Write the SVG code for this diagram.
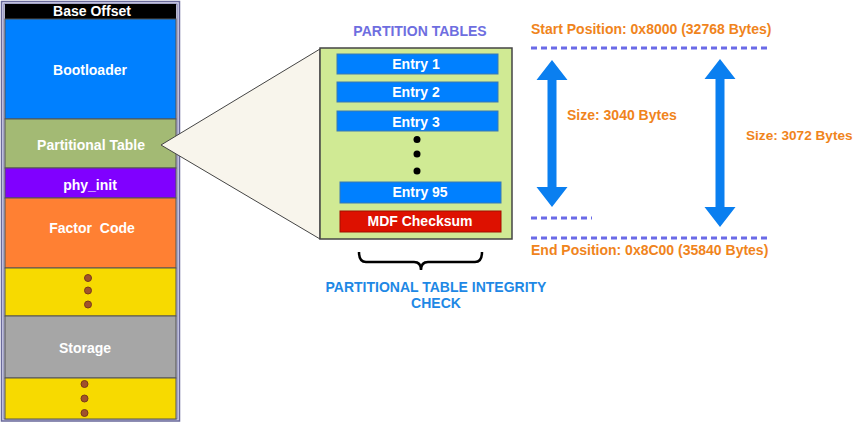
<svg xmlns="http://www.w3.org/2000/svg" width="861" height="423" viewBox="0 0 861 423">
<style>
text{font-family:"Liberation Sans",Arial,sans-serif;font-weight:bold;font-size:14px}
.w{fill:#ffffff;text-anchor:middle}
.wp{fill:#ffffff;text-anchor:middle;white-space:pre}
.e{fill:#ffffff;text-anchor:middle;font-size:14px}
.o{fill:#F0841C}
.b{fill:#1E88E5;text-anchor:middle;font-size:14px}
.blk{stroke:#555555;stroke-width:1}
.dash{stroke:#6A6AE8;stroke-width:3;stroke-dasharray:6 4;fill:none}
.ldot{fill:#A0522D;stroke:#7A3A1A;stroke-width:1}
.pdot{fill:#000000}
.ent{fill:#0080FF;stroke:#3A78B0;stroke-width:1}
.arr{fill:#0A7FF0}
</style>
<rect width="861" height="423" fill="#ffffff"/>
<g id="memory-map">
<rect x="1.5" y="1.5" width="178" height="419.5" fill="#DCDCF2" stroke="#6A6A9A" stroke-width="1.5"/>
<rect x="4" y="4" width="173" height="415" fill="#ffffff" stroke="#6A6A9A" stroke-width="1"/>
</g>
<g id="base-offset"><rect x="5" y="4" width="171" height="15" fill="#000000"/><text class="w" x="92" y="16">Base Offset</text></g>
<g id="bootloader"><rect x="5" y="19" width="171" height="100" fill="#0080FF" class="blk"/><text class="w" x="90" y="75">Bootloader</text></g>
<g id="partitional-table"><rect x="5" y="119" width="171" height="49" fill="#A3BA74" class="blk"/><text class="w" x="91" y="150">Partitional Table</text></g>
<g id="phy-init"><rect x="5" y="168" width="171" height="30" fill="#8000FF" class="blk"/><text class="w" x="90" y="190">phy_init</text></g>
<g id="factor-code"><rect x="5" y="198" width="171" height="70" fill="#FF8033" class="blk"/><text class="wp" x="92" y="233">Factor  Code</text></g>
<g id="gap1"><rect x="5" y="268" width="171" height="48" fill="#F7DA00" class="blk"/>
<circle class="ldot" cx="88" cy="278" r="3.5"/><circle class="ldot" cx="88" cy="290.5" r="3.5"/><circle class="ldot" cx="88" cy="304.5" r="3.5"/></g>
<g id="storage"><rect x="5" y="316" width="171" height="62" fill="#A6A6A6" class="blk"/><text class="w" x="85" y="353">Storage</text></g>
<g id="gap2"><rect x="5" y="378" width="171" height="41" fill="#F7DA00" class="blk"/>
<circle class="ldot" cx="84.5" cy="384" r="3.5"/><circle class="ldot" cx="84.5" cy="398.5" r="3.5"/><circle class="ldot" cx="84.5" cy="413" r="3.5"/></g>
<g id="connectors">
<polygon points="161,145 320,49 320,239" fill="#F8F5EC" stroke="#444444" stroke-width="1"/>
<path d="M359,252 Q359,262 366,262 L414,262 Q421,262 421,270 Q421,262 428,262 L475,262 Q482,262 482,252" fill="none" stroke="#000000" stroke-width="2.5"/>
<line class="dash" x1="531" y1="48" x2="770" y2="48"/>
<line class="dash" x1="531" y1="218" x2="592" y2="218"/>
<line class="dash" x1="531" y1="238" x2="770" y2="238"/>
<polygon class="arr" points="552,60 567.5,80 556.5,80 556.5,187 567.5,187 552,207 536.5,187 547.5,187 547.5,80 536.5,80"/>
<polygon class="arr" points="720,59 735.5,79 724.5,79 724.5,207 735.5,207 720,227 704.5,207 715.5,207 715.5,79 704.5,79"/>
</g>
<g id="partition-tables">
<text x="420" y="36" fill="#6E6EE0" text-anchor="middle">PARTITION TABLES</text>
<rect x="320" y="48" width="192" height="191" fill="#D0EA94" stroke="#444444" stroke-width="1.5"/>
<g id="entry-1"><rect class="ent" x="337" y="54" width="161" height="20"/><text class="e" x="416" y="69">Entry 1</text></g>
<g id="entry-2"><rect class="ent" x="337" y="82" width="161" height="20"/><text class="e" x="416" y="97">Entry 2</text></g>
<g id="entry-3"><rect class="ent" x="337" y="111" width="161" height="20"/><text class="e" x="416" y="127">Entry 3</text></g>
<circle class="pdot" cx="417" cy="139.5" r="3.5"/><circle class="pdot" cx="417" cy="154" r="3.5"/><circle class="pdot" cx="417" cy="171" r="3.5"/>
<g id="entry-95"><rect class="ent" x="340" y="182" width="161" height="21"/><text class="e" x="420" y="197">Entry 95</text></g>
<g id="mdf-checksum"><rect x="340" y="211" width="161" height="21" fill="#DD1100" stroke="#A01000" stroke-width="1"/><text class="e" x="420" y="226">MDF Checksum</text></g>
</g>
<g id="integrity-label">
<text class="b" x="436" y="292">PARTITIONAL TABLE INTEGRITY</text>
<text class="b" x="436" y="308">CHECK</text>
</g>
<g id="positions">
<text class="o" x="531" y="34">Start Position: 0x8000 (32768 Bytes)</text>
<text class="o" x="531" y="255">End Position: 0x8C00 (35840 Bytes)</text>
<text class="o" x="567" y="120">Size: 3040 Bytes</text>
<text class="o" x="746" y="140" style="font-size:13.6px">Size: 3072 Bytes</text>
</g>
</svg>
